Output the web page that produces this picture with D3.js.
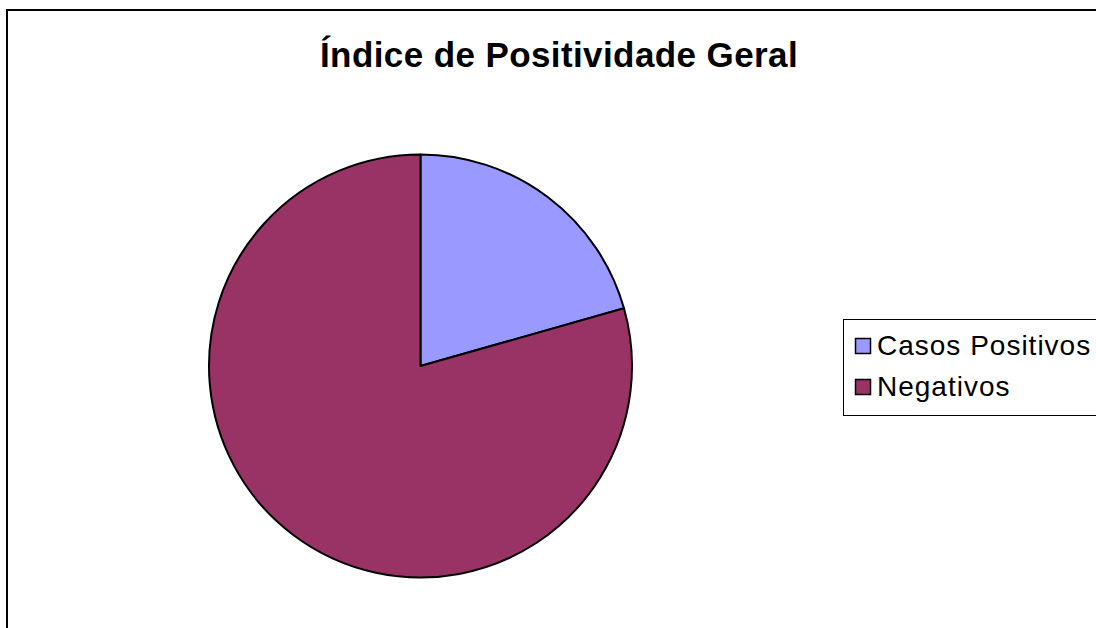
<!DOCTYPE html>
<html>
<head>
<meta charset="utf-8">
<script src="https://cdn.jsdelivr.net/npm/d3@7"></script>
<style>
  body { margin: 0; background: #fff; }
  svg { display: block; font-family: "Liberation Sans", Arial, sans-serif; }
</style>
</head>
<body>
<script>
const width = 1096
const height = 628

// chart data
const categories = ['Casos Positivos', 'Negativos']
const values = [20.6, 79.4]
const colors = ['#9999ff', '#993366']
const title = 'Índice de Positividade Geral'

const svg = d3.select('body').append('svg')
        .attr('width', width)
        .attr('height', height)

// outer frame (runs off the right/bottom edge)
svg.append('rect')
        .attr('x', 7)
        .attr('y', 10)
        .attr('width', 1100)
        .attr('height', 640)
        .attr('fill', '#fff')
        .attr('stroke', '#000')
        .attr('stroke-width', 2)

svg.append('text')
        .attr('x', 559)
        .attr('y', 67)
        .attr('text-anchor', 'middle')
        .attr('font-size', 35)
        .attr('font-weight', 'bold')
        .attr('letter-spacing', 0.4)
        .text(title)

const data = categories.map((c, i) => ({ name: c, value: values[i], color: colors[i] }))

const pie = d3.pie()
        .sort(null)
        .value(d => d.value)

const radius = 211.5
const arc = d3.arc()
        .innerRadius(0)
        .outerRadius(radius)

const g = svg.append('g')
        .attr('transform', 'translate(420.5, 366)')

g.selectAll('path')
        .data(pie(data))
        .join('path')
        .attr('d', arc)
        .attr('fill', d => d.data.color)
        .attr('stroke', '#000')
        .attr('stroke-width', 2)
        .attr('stroke-linejoin', 'round')

// legend
const legend = svg.append('g')

legend.append('rect')
        .attr('x', 843.5)
        .attr('y', 319.5)
        .attr('width', 300)
        .attr('height', 96)
        .attr('fill', '#fff')
        .attr('stroke', '#000')
        .attr('stroke-width', 1)

const rowY = d3.scalePoint()
        .domain(categories)
        .range([355, 396])

const items = legend.selectAll('g.item')
        .data(data)
        .join('g')
        .attr('class', 'item')

items.append('rect')
        .attr('x', 855.5)
        .attr('y', d => rowY(d.name) - 16.5)
        .attr('width', 15)
        .attr('height', 15)
        .attr('fill', d => d.color)
        .attr('stroke', '#000')
        .attr('stroke-width', 1.5)

items.append('text')
        .attr('x', 877)
        .attr('y', d => rowY(d.name))
        .attr('font-size', 28)
        .attr('letter-spacing', 1)
        .text(d => d.name)
</script>
</body>
</html>
